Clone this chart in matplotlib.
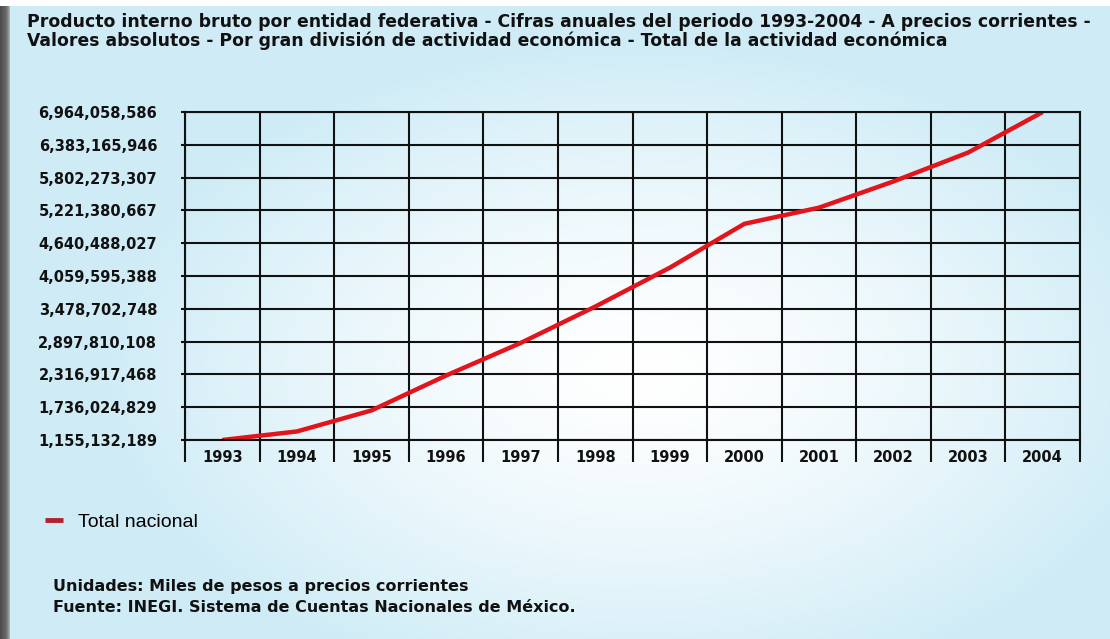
import matplotlib.pyplot as plt
import numpy as np
from matplotlib.ticker import FixedLocator

years = ["1993", "1994", "1995", "1996", "1997", "1998", "1999", "2000", "2001", "2002", "2003", "2004"]
pib = [1155132189, 1306301570, 1678834829, 2296674526, 2873273021, 3517781898,
       4206742993, 4983517681, 5269653552, 5734645637, 6245544165, 6964058586]
ytick_vals = [1155132189, 1736024829, 2316917468, 2897810108, 3478702748, 4059595388,
              4640488027, 5221380667, 5802273307, 6383165946, 6964058586]

plt.rcParams['font.family'] = ['DejaVu Sans']

W, H = 1110, 639
fig = plt.figure(figsize=(W / 100, H / 100), dpi=100)

# background: light blue with a whitish glow in the middle
bg = fig.add_axes([0, 0, 1, 1], zorder=-10)
yy, xx = np.mgrid[0:H, 0:W]
d = np.sqrt(((xx - 640) / 540.0) ** 2 + ((yy - 370) / 330.0) ** 2)
t = np.clip(d, 0, 1) ** 1.4
edge = np.array([0.81, 0.925, 0.965])
centre = np.array([1.0, 1.0, 1.0])
img = centre[None, None, :] * (1 - t[..., None]) + edge[None, None, :] * t[..., None]
img[:6, :, :] = 1.0
# dark left border with a soft lighter edge
for i, g in enumerate([0.30, 0.32, 0.34, 0.36, 0.38, 0.40, 0.44, 0.50, 0.58, 0.68]):
    img[6:, i, :] = g
bg.imshow(img, aspect='auto', extent=[0, W, H, 0])
bg.set_xlim(0, W)
bg.set_ylim(H, 0)
bg.axis('off')

ax = fig.add_axes([185 / W, 1 - 440 / H, (1080 - 185) / W, (440 - 112) / H])
ax.patch.set_alpha(0)
x = np.arange(len(years))
ax.plot(x, pib, color='#e3141c', lw=3.2, solid_capstyle='butt', label='Total nacional')
ax.set_xlim(-0.5, len(years) - 0.5)
ax.set_ylim(ytick_vals[0], ytick_vals[-1])

ax.set_yticks(ytick_vals)
ax.set_yticklabels([f"{v:,}" for v in ytick_vals], fontweight='bold', fontsize=10.5, color='#111111')
ax.set_xticks(x)
ax.set_xticklabels(years, fontweight='bold', fontsize=10.5, color='#111111')
ax.xaxis.set_minor_locator(FixedLocator(np.arange(len(years) + 1) - 0.5))
ax.tick_params(axis='x', which='major', length=0, pad=7)
ax.tick_params(axis='x', which='minor', length=16, width=1.5, direction='out', color='#111111')
ax.tick_params(axis='y', length=3, width=1.5, color='#111111', pad=17)
ax.grid(True, which='major', axis='y', color='#111111', lw=1.5)
ax.grid(True, which='minor', axis='x', color='#111111', lw=1.5)
for s in ax.spines.values():
    s.set_color('#111111')
    s.set_linewidth(1.5)

fig.text(27 / W, 1 - 22 / H,
         "Producto interno bruto por entidad federativa - Cifras anuales del periodo 1993-2004 - A precios corrientes -",
         fontsize=12.4, fontweight='bold', va='center', ha='left', color='#111111')
fig.text(27 / W, 1 - 41 / H,
         "Valores absolutos - Por gran división de actividad económica - Total de la actividad económica",
         fontsize=12.4, fontweight='bold', va='center', ha='left', color='#111111')

leg = ax.legend(loc='center left', bbox_to_anchor=(45 / W, 1 - 522 / H), bbox_transform=fig.transFigure,
                frameon=False, prop={'family': 'Liberation Sans', 'size': 14},
                handlelength=0.9, handletextpad=0.8, borderpad=0, borderaxespad=0)
leg.get_lines()[0].set_color('#b5202e')
leg.get_lines()[0].set_linewidth(3.5)

fig.text(53 / W, 1 - 587 / H, "Unidades: Miles de pesos a precios corrientes",
         fontsize=11.5, fontweight='bold', va='center', ha='left', color='#111111')
fig.text(53 / W, 1 - 607 / H, "Fuente: INEGI. Sistema de Cuentas Nacionales de México.",
         fontsize=11.5, fontweight='bold', va='center', ha='left', color='#111111')

fig.savefig('out.png', dpi=100)
